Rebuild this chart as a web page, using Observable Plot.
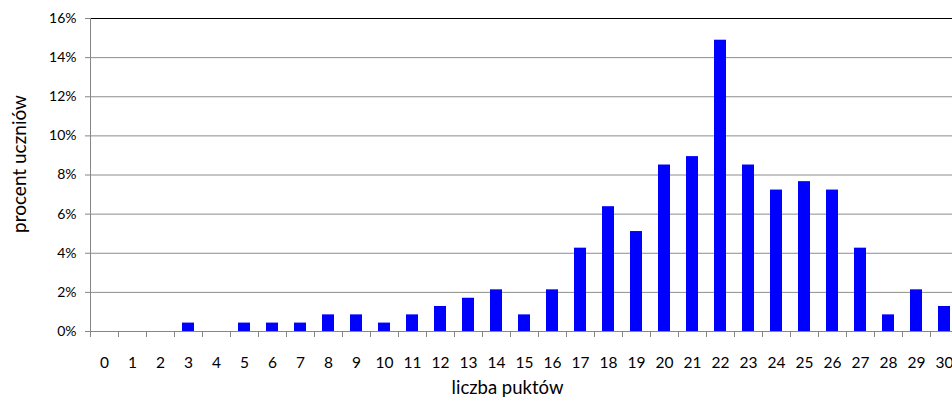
<!DOCTYPE html>
<html>
<head>
<meta charset="utf-8">
<script src="https://cdn.jsdelivr.net/npm/d3@7"></script>
<script src="https://cdn.jsdelivr.net/npm/@observablehq/plot@0.6"></script>
<style>
  html, body { margin: 0; padding: 0; background: #fff; }
</style>
</head>
<body>
<div id="chart"></div>
<script>
const categories = ["0","1","2","3","4","5","6","7","8","9","10","11","12","13","14","15","16","17","18","19","20","21","22","23","24","25","26","27","28","29","30"];
const percentages = [0, 0, 0, 0.43, 0, 0.43, 0.43, 0.43, 0.85, 0.85, 0.43, 0.85, 1.28, 1.70, 2.13, 0.85, 2.13, 4.26, 6.38, 5.11, 8.51, 8.94, 14.89, 8.51, 7.23, 7.66, 7.23, 4.26, 0.85, 2.13, 1.28];
const yTicks = [0, 2, 4, 6, 8, 10, 12, 14, 16];
const gridTicks = [2, 4, 6, 8, 10, 12, 14];
const yTitle = "procent uczniów";
const xTitle = "liczba puktów";

const data = categories.map((c, i) => ({pts: c, pct: percentages[i]}));

const chart = Plot.plot({
  width: 952,
  height: 400,
  marginLeft: 90,
  marginRight: 0,
  marginTop: 18,
  marginBottom: 69,
  style: {fontFamily: "Lato, 'Open Sans', sans-serif", fontSize: "14px", color: "#000", background: "#fff"},
  x: {type: "band", domain: categories, range: [90, 958], paddingInner: 0.57, paddingOuter: 0.285},
  y: {domain: [0, 16]},
  marks: [
    Plot.gridY(gridTicks, {stroke: "#8c8c8c", strokeOpacity: 1}),
    Plot.ruleY([16], {stroke: "#000"}),
    Plot.barY(data, {x: "pts", y: "pct", fill: "#0000ff"}),
    Plot.ruleY([0], {stroke: "#868686"}),
    Plot.ruleX(categories.slice(0, 1), {x: d => d, y1: 0, y2: 16, dx: -14, stroke: "#868686"}),
    Plot.axisY(yTicks, {tickSize: 5, tickPadding: 9, tickFormat: d => d + "%", stroke: "#868686", fontSize: 14, label: null}),
    Plot.axisX({tickSize: 6, tickFormat: () => "", dx: -14, stroke: "#868686", label: null}),
    Plot.axisX({tickSize: 0, tickPadding: 25, fontSize: 15.5, label: null}),
    Plot.text([yTitle], {frameAnchor: "left", textAnchor: "middle", lineAnchor: "middle", rotate: -90, dx: -71, dy: -11, fontSize: 19, text: d => d}),
    Plot.text([xTitle], {frameAnchor: "bottom", textAnchor: "middle", lineAnchor: "middle", dy: 57, dx: -14, fontSize: 18.5, text: d => d})
  ]
});
document.getElementById("chart").appendChild(chart);
</script>
</body>
</html>
